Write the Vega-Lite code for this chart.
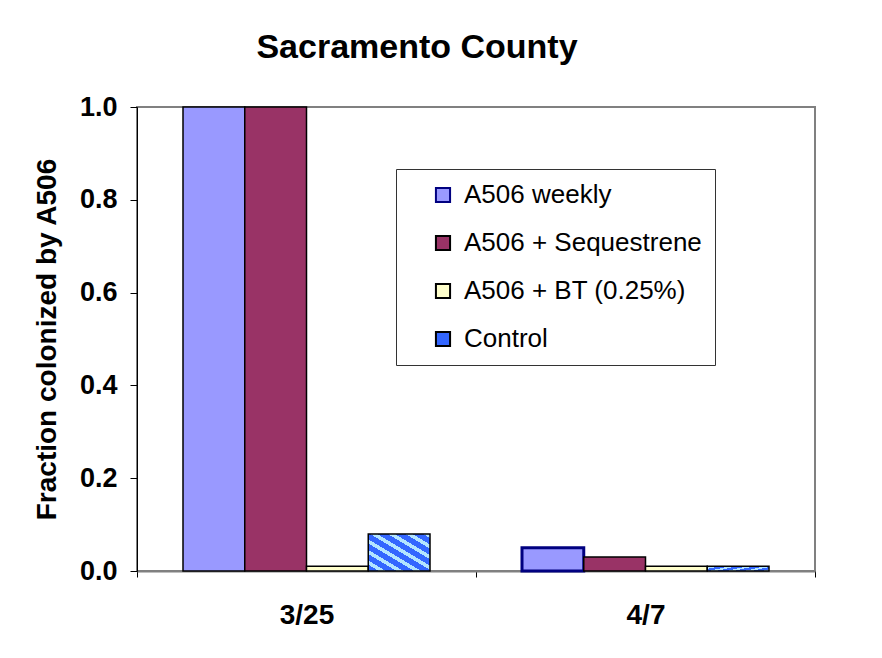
{
  "$schema": "https://vega.github.io/schema/vega-lite/v6.json",
  "width": 678,
  "height": 464,
  "autosize": {"type": "none"},
  "padding": {"left": 137, "top": 107, "right": 67, "bottom": 87},
  "background": "white",
  "title": {
    "text": "Sacramento County",
    "fontSize": 34,
    "fontWeight": "bold",
    "font": "Liberation Sans",
    "color": "#000000",
    "anchor": "middle",
    "baseline": "alphabetic",
    "dx": -59,
    "offset": 1
  },
  "data": {
    "values": [
      {"date": "3/25", "series": "A506 weekly", "fraction": 1.0},
      {"date": "3/25", "series": "A506 + Sequestrene", "fraction": 1.0},
      {"date": "3/25", "series": "A506 + BT (0.25%)", "fraction": 0.01},
      {"date": "3/25", "series": "Control", "fraction": 0.08},
      {"date": "4/7", "series": "A506 weekly", "fraction": 0.05},
      {"date": "4/7", "series": "A506 + Sequestrene", "fraction": 0.03},
      {"date": "4/7", "series": "A506 + BT (0.25%)", "fraction": 0.01},
      {"date": "4/7", "series": "Control", "fraction": 0.01}
    ]
  },
  "mark": {"type": "bar"},
  "encoding": {
    "x": {
      "field": "date",
      "type": "nominal",
      "sort": ["3/25", "4/7"],
      "scale": {"paddingInner": 0, "paddingOuter": 0},
      "axis": {
        "title": null,
        "labelAngle": 0,
        "labelFontSize": 28,
        "labelFontWeight": "bold",
        "labelPadding": 24,
        "tickSize": 6,
        "tickBand": "extent",
        "tickColor": "#000000",
        "domainColor": "#808080",
        "domainWidth": 2
      }
    },
    "xOffset": {
      "field": "series",
      "type": "nominal",
      "sort": ["A506 weekly", "A506 + Sequestrene", "A506 + BT (0.25%)", "Control"],
      "scale": {"paddingInner": 0, "paddingOuter": 0.745}
    },
    "y": {
      "field": "fraction",
      "type": "quantitative",
      "scale": {"domain": [0, 1], "nice": false},
      "axis": {
        "title": "Fraction colonized by A506",
        "titleFontSize": 28,
        "titleFontWeight": "bold",
        "titlePadding": 18,
        "values": [0, 0.2, 0.4, 0.6, 0.8, 1.0],
        "format": ".1f",
        "labelFontSize": 27,
        "labelFontWeight": "bold",
        "labelPadding": 13,
        "tickSize": 7,
        "tickColor": "#000000",
        "domainColor": "#000000",
        "domainWidth": 1,
        "grid": false
      }
    },
    "fill": {
      "condition": {
        "test": "datum.series === 'Control'",
        "value": {
          "gradient": "linear",
          "x1": 0, "y1": 1, "x2": 1, "y2": 0,
          "stops": [
            {"offset": 0.0, "color": "#3366FF"}, {"offset": 0.085, "color": "#3366FF"},
            {"offset": 0.085, "color": "#B3E5FF"}, {"offset": 0.143, "color": "#B3E5FF"},
            {"offset": 0.143, "color": "#3366FF"}, {"offset": 0.228, "color": "#3366FF"},
            {"offset": 0.228, "color": "#B3E5FF"}, {"offset": 0.286, "color": "#B3E5FF"},
            {"offset": 0.286, "color": "#3366FF"}, {"offset": 0.371, "color": "#3366FF"},
            {"offset": 0.371, "color": "#B3E5FF"}, {"offset": 0.429, "color": "#B3E5FF"},
            {"offset": 0.429, "color": "#3366FF"}, {"offset": 0.514, "color": "#3366FF"},
            {"offset": 0.514, "color": "#B3E5FF"}, {"offset": 0.571, "color": "#B3E5FF"},
            {"offset": 0.571, "color": "#3366FF"}, {"offset": 0.657, "color": "#3366FF"},
            {"offset": 0.657, "color": "#B3E5FF"}, {"offset": 0.714, "color": "#B3E5FF"},
            {"offset": 0.714, "color": "#3366FF"}, {"offset": 0.800, "color": "#3366FF"},
            {"offset": 0.800, "color": "#B3E5FF"}, {"offset": 0.857, "color": "#B3E5FF"},
            {"offset": 0.857, "color": "#3366FF"}, {"offset": 0.943, "color": "#3366FF"},
            {"offset": 0.943, "color": "#B3E5FF"}, {"offset": 1.0, "color": "#B3E5FF"}
          ]
        }
      },
      "field": "series",
      "type": "nominal",
      "scale": {
        "domain": ["A506 weekly", "A506 + Sequestrene", "A506 + BT (0.25%)", "Control"],
        "range": ["#9999FF", "#993366", "#FFFFCC", "#3366FF"]
      },
      "legend": {
        "title": null,
        "orient": "none",
        "legendX": 259,
        "legendY": 62,
        "padding": 13,
        "symbolOffset": 21,
        "symbolType": "square",
        "symbolSize": 200,
        "symbolStrokeWidth": 2,
        "labelFontSize": 26,
        "labelFont": "Liberation Sans",
        "labelColor": "#000000",
        "labelOffset": 8,
        "labelLimit": 400,
        "rowPadding": 22,
        "fillColor": "#FFFFFF",
        "strokeColor": "#333333"
      }
    },
    "stroke": {
      "condition": {"test": "datum.date === '3/25'", "value": "#000000"},
      "field": "series",
      "type": "nominal",
      "scale": {
        "domain": ["A506 weekly", "A506 + Sequestrene", "A506 + BT (0.25%)", "Control"],
        "range": ["#000080", "#000000", "#000000", "#000000"]
      },
      "legend": {
        "title": null,
        "orient": "none",
        "legendX": 259,
        "legendY": 62,
        "padding": 13,
        "symbolOffset": 21,
        "symbolType": "square",
        "symbolSize": 200,
        "symbolStrokeWidth": 2,
        "labelFontSize": 26,
        "labelFont": "Liberation Sans",
        "labelColor": "#000000",
        "labelOffset": 8,
        "labelLimit": 400,
        "rowPadding": 22,
        "fillColor": "#FFFFFF",
        "strokeColor": "#333333"
      }
    },
    "strokeWidth": {
      "condition": {"test": "datum.date === '4/7' && datum.series === 'A506 weekly'", "value": 3},
      "value": 1.5
    }
  },
  "config": {
    "font": "Liberation Sans",
    "view": {"stroke": "#808080", "strokeWidth": 2},
    "axis": {"labelColor": "#000000", "titleColor": "#000000", "labelFont": "Liberation Sans", "titleFont": "Liberation Sans"}
  }
}
